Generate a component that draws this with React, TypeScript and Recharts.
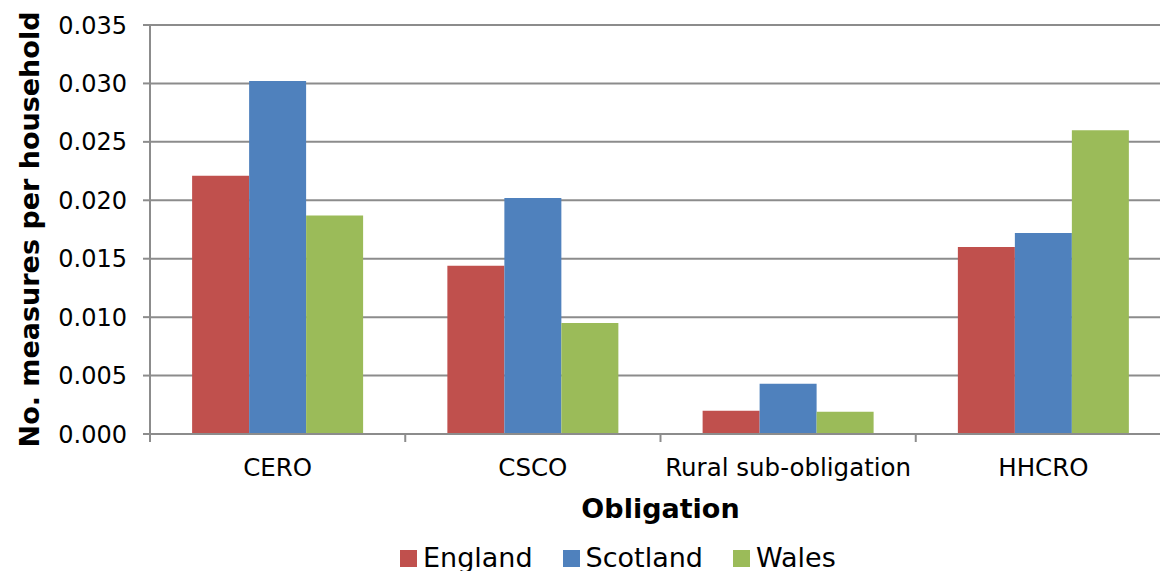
import React from 'react';
import { BarChart, Bar, XAxis, YAxis, CartesianGrid, Legend } from 'recharts';

const obligations = ['CERO', 'CSCO', 'Rural sub-obligation', 'HHCRO'];
const england = [0.0221, 0.0144, 0.0020, 0.0160];
const scotland = [0.0302, 0.0202, 0.0043, 0.0172];
const wales = [0.0187, 0.0095, 0.0019, 0.0260];
const yTicks = [0, 0.005, 0.01, 0.015, 0.02, 0.025, 0.03, 0.035];

const data = obligations.map((name, i) => ({
  name,
  England: england[i],
  Scotland: scotland[i],
  Wales: wales[i],
}));

const W = 1171;
const H = 571;
const Y_W = 150;
const FONT = '"DejaVu Sans", Verdana, sans-serif';
const GREY = '#8c8c8c';
const band = (W - Y_W) / obligations.length;

const XTick = (props: any) => {
  const { x, y, payload } = props;
  return (
    <g>
      <line x1={x - band / 2} x2={x - band / 2} y1={y} y2={y + 8} stroke={GREY} strokeWidth={2} />
      <text x={x} y={y + 33} textAnchor="middle" dominantBaseline="central" fill="#000" fontSize={24.5} fontFamily={FONT}>
        {payload.value}
      </text>
    </g>
  );
};

const YLabel = (props: any) => {
  const { viewBox } = props;
  const cx = viewBox.x + 29;
  const cy = viewBox.y + viewBox.height / 2;
  return (
    <text x={cx} y={cy} transform={`rotate(-90 ${cx} ${cy})`} textAnchor="middle" dominantBaseline="central"
      fill="#000" fontSize={27} fontWeight="bold" fontFamily={FONT}>
      No. measures per household
    </text>
  );
};

const XLabel = (props: any) => {
  const { viewBox } = props;
  return (
    <text x={viewBox.x + viewBox.width / 2} y={viewBox.y + 74} textAnchor="middle" dominantBaseline="central"
      fill="#000" fontSize={27} fontWeight="bold" fontFamily={FONT}>
      Obligation
    </text>
  );
};

const LegendContent = (props: any) => {
  const { payload } = props;
  return (
    <div style={{ display: 'flex', alignItems: 'center', marginLeft: 400, paddingTop: 33, lineHeight: '32px' }}>
      {payload.map((p: any) => (
        <div key={p.value} style={{ display: 'flex', alignItems: 'center', marginRight: 30 }}>
          <span style={{ display: 'inline-block', width: 17, height: 17, background: p.color, marginRight: 6 }} />
          <span style={{ fontSize: 27, fontFamily: FONT, color: '#000' }}>{p.value}</span>
        </div>
      ))}
    </div>
  );
};

export default function App() {
  return (
    <div style={{ position: 'absolute', left: 0, top: 0, width: 1160, height: H, overflow: 'hidden', background: '#fff' }}>
      <BarChart width={W} height={H} data={data} margin={{ top: 25, right: 0, bottom: 0, left: 0 }}
        barCategoryGap="16.5%" barGap={0}>
        <CartesianGrid vertical={false} stroke={GREY} strokeWidth={2} />
        <XAxis dataKey="name" height={75} tickLine={false} tickSize={0} tickMargin={0} interval={0}
          axisLine={{ stroke: GREY, strokeWidth: 2 }} tick={<XTick />} label={<XLabel />} />
        <YAxis width={Y_W} domain={[0, 0.035]} ticks={yTicks} tickSize={7} tickMargin={16}
          tickFormatter={(v: number) => v.toFixed(3)}
          tick={{ fill: '#000', fontSize: 24, fontFamily: FONT }}
          axisLine={{ stroke: GREY, strokeWidth: 2 }} tickLine={{ stroke: GREY, strokeWidth: 2 }}
          label={<YLabel />} />
        <Legend verticalAlign="bottom" content={<LegendContent />} wrapperStyle={{ height: 62 }} />
        <Bar dataKey="England" fill="#C0504D" isAnimationActive={false} />
        <Bar dataKey="Scotland" fill="#4F81BD" isAnimationActive={false} />
        <Bar dataKey="Wales" fill="#9BBB59" isAnimationActive={false} />
      </BarChart>
    </div>
  );
}
